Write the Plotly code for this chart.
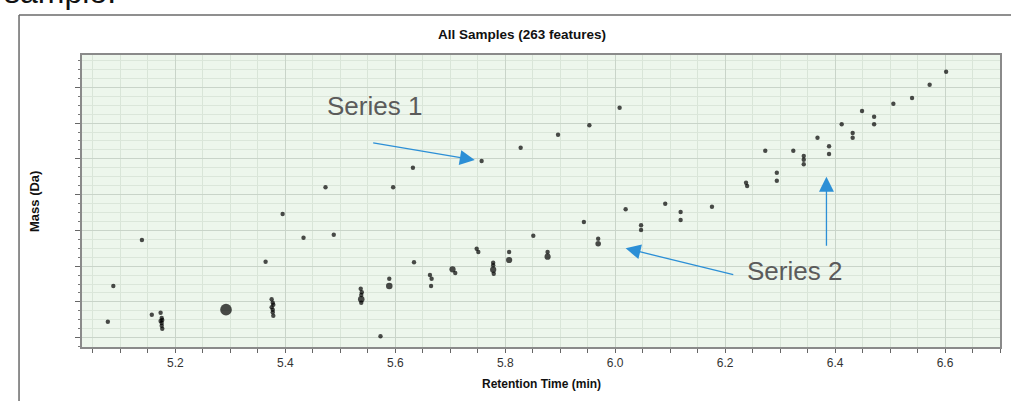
import math
import plotly.graph_objects as go

# ---- data ----
rt_min = [5.077, 5.087, 5.139, 5.157, 5.173, 5.175, 5.176, 5.173, 5.175, 5.175, 5.176,
          5.292,
          5.375, 5.377, 5.378, 5.375, 5.377, 5.377, 5.378,
          5.364, 5.395, 5.433, 5.473, 5.488,
          5.537, 5.539, 5.538, 5.538, 5.538,
          5.573, 5.589, 5.589, 5.596, 5.632, 5.634,
          5.663, 5.666, 5.665, 5.704, 5.709,
          5.748, 5.751, 5.757, 5.778, 5.778, 5.778, 5.779,
          5.807, 5.807, 5.828, 5.851, 5.877, 5.877, 5.896,
          5.943, 5.953, 5.969, 5.969, 6.008, 6.019, 6.047, 6.047,
          6.091, 6.119, 6.119, 6.176, 6.238, 6.240, 6.273, 6.294, 6.294,
          6.324, 6.343, 6.343, 6.343, 6.368, 6.389, 6.389, 6.412,
          6.432, 6.432, 6.449, 6.471, 6.471, 6.506, 6.540, 6.572, 6.602]

mass_da = [244.7, 344.5, 473.1, 264.3, 269.9, 255.1, 249.5, 246.7, 241.1, 233.5, 225.2,
           278.3,
           307.4, 297.8, 292.3, 285.0, 278.3, 271.0, 261.5,
           412.5, 545.8, 479.6, 620.5, 488.0,
           337.0, 326.9, 319.4, 307.4, 297.8,
           203.9, 364.9, 344.5, 620.5, 675.3, 410.8,
           375.3, 364.9, 344.5, 391.2, 380.9,
           448.8, 439.6, 694.0, 409.7, 402.4, 390.1, 378.9,
           439.6, 417.2, 731.2, 485.2, 439.6, 426.4, 767.5,
           523.5, 793.8, 476.8, 462.8, 843.0, 559.0, 514.2, 501.1,
           574.6, 551.4, 529.0, 566.2, 633.3, 624.1, 722.8, 661.3, 638.9,
           722.8, 708.0, 697.6, 684.8, 759.1, 735.1, 713.6, 796.6,
           772.3, 759.1, 833.8, 817.8, 796.6, 854.2, 870.1, 907.3, 943.6]

abundance = [1, 1, 1, 1, 1, 1, 1, 1, 1, 1, 1,
             7,
             1, 1, 1, 1, 1, 1, 1,
             1, 1, 1, 1, 1,
             1, 1, 1, 2.2, 1,
             1, 1, 2.2, 1, 1, 1,
             1, 1, 1, 2, 1,
             1, 1, 1, 1, 1, 2, 1,
             1, 2, 1, 1, 1, 2, 1,
             1, 1, 1, 1.6, 1, 1, 1, 1,
             1, 1, 1, 1, 1, 1, 1, 1, 1,
             1, 1, 1, 1, 1, 1, 1, 1,
             1, 1, 1, 1, 1, 1, 1, 1, 1]

x_tick_labels = ["5.2", "5.4", "5.6", "5.8", "6.0", "6.2", "6.4", "6.6"]
x_tick_vals = [5.2, 5.4, 5.6, 5.8, 6.0, 6.2, 6.4, 6.6]

SANS = "Liberation Sans, Arial, sans-serif"
BLUE = "#2c8fd6"

sizes = [4.4 * math.sqrt(a) for a in abundance]

fig = go.Figure()
fig.add_trace(go.Scatter(
    x=rt_min, y=mass_da, mode="markers",
    marker=dict(color="black", size=sizes, line=dict(width=0)),
    hoverinfo="x+y", showlegend=False,
))

# arrows (tail -> head, in data coordinates)
arrows = [
    ((5.557, 745.1), (5.7445, 696.8)),
    ((6.2175, 375.3), (6.019, 449.9)),
    ((6.3843, 452.7), (6.3843, 650.1)),
]
annotations = []
for (tx, ty), (hx, hy) in arrows:
    annotations.append(dict(
        x=hx, y=hy, ax=tx, ay=ty, xref="x", yref="y", axref="x", ayref="y",
        showarrow=True, arrowhead=2, arrowsize=2.3, arrowwidth=1.3,
        arrowcolor=BLUE, standoff=0, text="",
    ))

annotations += [
    dict(text="Series 1", x=5.5626, y=847.7, xref="x", yref="y", showarrow=False,
         font=dict(family=SANS, size=26, color="#5b5b5b")),
    dict(text="Series 2", x=6.3266, y=386.5, xref="x", yref="y", showarrow=False,
         font=dict(family=SANS, size=26, color="#5b5b5b")),
    dict(text="<b>All Samples (263 features)</b>", x=0.4793, y=1.0702,
         xref="paper", yref="paper", showarrow=False, xanchor="center", yanchor="middle",
         font=dict(family=SANS, size=13.5, color="#111111")),
    dict(text="<b>Retention Time (min)</b>", x=0.5005, y=-0.1284,
         xref="paper", yref="paper", showarrow=False, xanchor="center", yanchor="middle",
         font=dict(family=SANS, size=12, color="#111111")),
    dict(text="<b>Mass (Da)</b>", x=-0.0523, y=0.5, textangle=-90,
         xref="paper", yref="paper", showarrow=False, xanchor="center", yanchor="middle",
         font=dict(family=SANS, size=13, color="#111111")),
    dict(text="sample.", x=-0.0872, y=1.147, xref="paper", yref="paper",
         showarrow=False, xanchor="left", yanchor="bottom",
         font=dict(family=SANS, size=32, color="#111111")),
]

# outer panel frame (left and top edges visible in the screenshot)
shapes = [
    dict(type="line", xref="paper", yref="paper", x0=-0.0686, y0=1.137, x1=1.05, y1=1.137,
         line=dict(color="#6a6a6a", width=1.5)),
    dict(type="line", xref="paper", yref="paper", x0=-0.0686, y0=1.137, x1=-0.0686, y1=-0.3,
         line=dict(color="#6a6a6a", width=1.5)),
]

fig.update_layout(
    width=1011, height=401,
    margin=dict(l=82, r=11, t=55, b=54),
    paper_bgcolor="white", plot_bgcolor="#edf6ec",
    annotations=annotations, shapes=shapes,
    xaxis=dict(
        range=[5.03, 6.70], tickmode="array", tickvals=x_tick_vals, ticktext=x_tick_labels,
        ticks="outside", ticklen=4, tickcolor="#666", tickwidth=1,
        showline=True, linecolor="#8a8a8a", linewidth=1.5, mirror=True,
        showgrid=True, gridcolor="#c9d4c9", gridwidth=1, zeroline=False,
        tickfont=dict(family=SANS, size=12, color="#333333"),
        minor=dict(dtick=0.05, tick0=5.0, ticks="outside", ticklen=4, tickcolor="#666",
                   showgrid=True, gridcolor="#d9e5d8", gridwidth=1),
        automargin=False, fixedrange=True,
    ),
    yaxis=dict(
        range=[174.0, 990.3], tick0=200, dtick=100, showticklabels=False,
        ticks="outside", ticklen=5, tickcolor="#666", tickwidth=1,
        showline=True, linecolor="#8a8a8a", linewidth=1.5, mirror=True,
        showgrid=True, gridcolor="#c9d4c9", gridwidth=1, zeroline=False,
        minor=dict(dtick=25, ticks="outside", ticklen=2.5, tickcolor="#777",
                   showgrid=True, gridcolor="#dbe6da", gridwidth=1),
        automargin=False, fixedrange=True,
    ),
)

fig.write_html(
    "out.html",
    config={"displayModeBar": False},
    post_script="document.body.style.margin='0';document.body.style.overflow='hidden';",
)
